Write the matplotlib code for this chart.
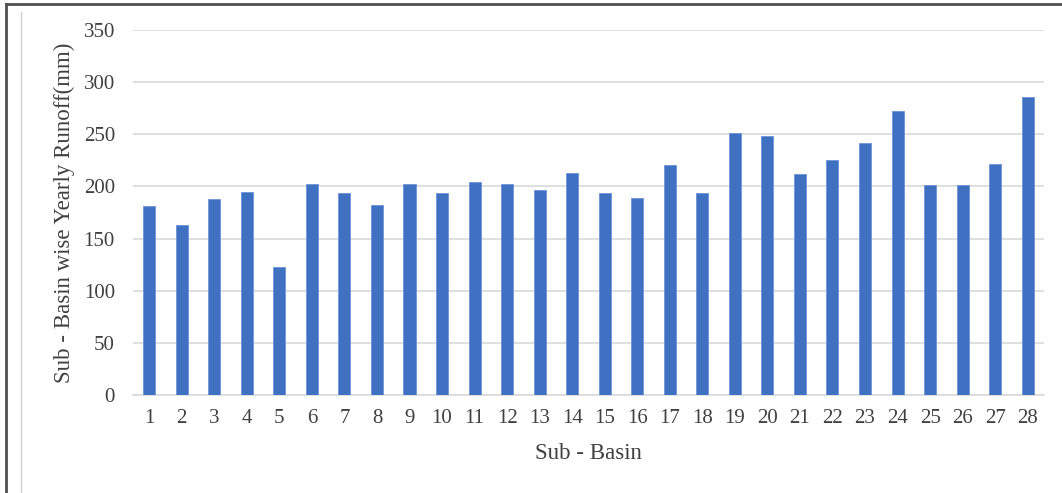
import matplotlib
matplotlib.use("Agg")
import matplotlib.pyplot as plt
from matplotlib.lines import Line2D

# Данные: годовой сток по подбассейнам (мм)
sub_basins = [str(i) for i in range(1, 29)]
runoff = [181, 163, 188, 195, 123, 202, 194, 182, 202, 194,
          204, 202, 197, 213, 194, 189, 221, 194, 251, 248,
          212, 225, 242, 272, 201, 201, 222, 286]

plt.rcParams['font.family'] = ['Liberation Serif', 'DejaVu Serif']

fig = plt.figure(figsize=(10.62, 4.93), dpi=100)
ax = fig.add_axes([0.1252, 0.1988, 0.8578, 0.7402])

x = list(range(len(sub_basins)))
ax.bar(x, runoff, width=0.37, color='#4070C2', edgecolor='#6F93D6', linewidth=0.6, zorder=3)

ax.set_xlim(-0.5, len(sub_basins) - 0.5)
ax.set_ylim(0, 350)
ax.set_yticks(range(0, 351, 50))
ax.set_xticks(x)
ax.set_xticklabels(sub_basins)
ax.tick_params(axis='both', length=0, labelsize=15, colors='#404040')
ax.tick_params(axis='x', pad=10)
ax.tick_params(axis='y', pad=13)

ax.grid(axis='y', color='#D9D9D9', linewidth=1.2, zorder=0)
for s in ['top', 'right', 'left']:
    ax.spines[s].set_visible(False)
ax.spines['bottom'].set_color('#D9D9D9')
ax.spines['bottom'].set_linewidth(1.2)

ax.set_xlabel('Sub - Basin', fontsize=16.5, color='#404040', labelpad=11)
ax.set_ylabel('Sub - Basin wise Yearly Runoff(mm)', fontsize=16.5, color='#404040', labelpad=6)

# рамка рисунка
fig.add_artist(Line2D([0.0056, 1.0], [0.992, 0.992], color='#505050', linewidth=2))
fig.add_artist(Line2D([0.0056, 0.0056], [0.0, 0.992], color='#505050', linewidth=2))
fig.add_artist(Line2D([0.0195, 0.0195], [0.0, 0.975], color='#D0D0D0', linewidth=1))

fig.savefig('out.png', dpi=100)
